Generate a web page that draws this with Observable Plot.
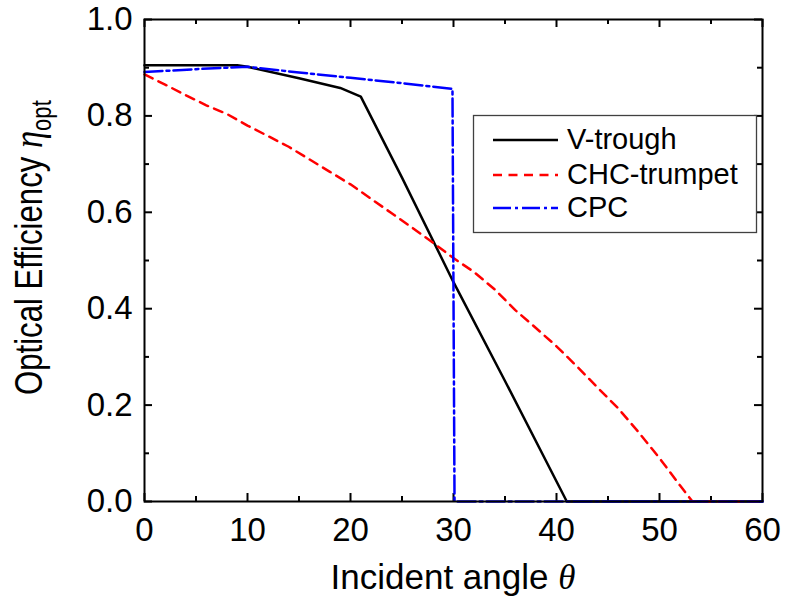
<!DOCTYPE html>
<html>
<head>
<meta charset="utf-8">
<script src="https://cdn.jsdelivr.net/npm/d3@7"></script>
<script src="https://cdn.jsdelivr.net/npm/@observablehq/plot@0.6"></script>
<style>
  html, body { margin: 0; padding: 0; background: white; }
  svg { display: block; }
</style>
</head>
<body>
<div id="chart"></div>
<script>
// ---- data ----
const seriesNames = ["V-trough", "CHC-trumpet", "CPC"];

const vtroughTheta = [0, 5, 9, 10, 15, 19, 21, 25, 30, 35, 41, 50, 60];
const vtroughEta   = [0.905, 0.905, 0.905, 0.902, 0.878, 0.858, 0.840, 0.672, 0.455, 0.250, 0, 0, 0];

const chcTheta = [0, 2, 4, 6, 8, 10, 12, 14, 16, 18, 20, 22, 24, 26, 28, 30, 32, 34, 36, 38, 40, 42, 44, 46, 48, 50, 52, 53.2, 56, 60];
const chcEta   = [0.886, 0.865, 0.843, 0.822, 0.804, 0.780, 0.758, 0.736, 0.710, 0.684, 0.658, 0.628, 0.598, 0.568, 0.537, 0.505, 0.476, 0.440, 0.397, 0.360, 0.322, 0.280, 0.236, 0.193, 0.143, 0.090, 0.033, 0, 0, 0];

const cpcTheta = [0, 5, 10, 15, 20, 25, 29.9, 30.1, 45, 60];
const cpcEta   = [0.891, 0.897, 0.902, 0.890, 0.879, 0.868, 0.856, 0, 0, 0];

const xTickLabels = [0, 10, 20, 30, 40, 50, 60];
const xMinorTicks = [5, 15, 25, 35, 45, 55];
const yTickLabels = [0, 0.2, 0.4, 0.6, 0.8, 1.0];
const yMinorTicks = [0.1, 0.3, 0.5, 0.7, 0.9];

const colors = ["#000000", "#ff0000", "#0000ff"];
const dashes = [null, "9,6.5", "18,4,3,4"];

// ---- build ----
const W = 785, H = 603;
const mL = 144, mR = 23, mT = 19, mB = 102;
const innerH = H - mT - mB;
const innerW = W - mL - mR;
const toRows = (t, v) => t.map((d, i) => ({theta: d, eta: v[i]}));
const series = [toRows(vtroughTheta, vtroughEta), toRows(chcTheta, chcEta), toRows(cpcTheta, cpcEta)];

const majorLen = 8, minorLen = 5;

const chart = Plot.plot({
  width: W, height: H,
  marginLeft: mL, marginRight: mR, marginTop: mT, marginBottom: mB,
  style: {fontFamily: "'Liberation Sans', Arial, sans-serif", background: "white", color: "black"},
  x: {domain: [0, 60]},
  y: {domain: [0, 1]},
  marks: [
    Plot.axisX(xTickLabels, {tickSize: 0, tickPadding: 16, fontSize: 33, label: null, tickFormat: d => String(d)}),
    Plot.axisY(yTickLabels, {tickSize: 0, tickPadding: 12, fontSize: 33, label: null, tickFormat: d3.format(".1f")}),
    // inward ticks, bottom & top
    Plot.tickX(xTickLabels, {x: d => d, insetTop: innerH - majorLen, stroke: "black", strokeWidth: 2}),
    Plot.tickX(xMinorTicks, {x: d => d, insetTop: innerH - minorLen, stroke: "black", strokeWidth: 2}),
    Plot.tickX(xTickLabels, {x: d => d, insetBottom: innerH - majorLen, stroke: "black", strokeWidth: 2}),
    Plot.tickX(xMinorTicks, {x: d => d, insetBottom: innerH - minorLen, stroke: "black", strokeWidth: 2}),
    // inward ticks, left & right
    Plot.tickY(yTickLabels, {y: d => d, insetRight: innerW - majorLen, stroke: "black", strokeWidth: 2}),
    Plot.tickY(yMinorTicks, {y: d => d, insetRight: innerW - minorLen, stroke: "black", strokeWidth: 2}),
    Plot.tickY(yTickLabels, {y: d => d, insetLeft: innerW - majorLen, stroke: "black", strokeWidth: 2}),
    Plot.tickY(yMinorTicks, {y: d => d, insetLeft: innerW - minorLen, stroke: "black", strokeWidth: 2}),
    // data lines
    Plot.line(series[0], {x: "theta", y: "eta", stroke: colors[0], strokeWidth: 2.5}),
    Plot.line(series[1], {x: "theta", y: "eta", stroke: colors[1], strokeWidth: 2.5, strokeDasharray: dashes[1]}),
    Plot.line(series[2], {x: "theta", y: "eta", stroke: colors[2], strokeWidth: 2.5, strokeDasharray: dashes[2]}),
    Plot.frame({stroke: "black", strokeWidth: 2})
  ]
});

document.getElementById("chart").appendChild(chart);

// ---- titles and legend ----
const svg = d3.select(chart);
const sans = "'Liberation Sans', Arial, sans-serif";
const serif = "'Liberation Serif', 'Times New Roman', serif";

// x title
const xt = svg.append("text")
  .attr("x", mL + innerW / 2).attr("y", 589)
  .attr("text-anchor", "middle")
  .attr("font-family", sans).attr("font-size", 35).attr("fill", "black");
xt.append("tspan").text("Incident angle ");
xt.append("tspan").attr("font-family", serif).attr("font-style", "italic").text("θ");

// y title
const yt = svg.append("text")
  .attr("transform", "translate(42,395) rotate(-90) scale(0.82,1)")
  .attr("text-anchor", "start")
  .attr("font-family", sans).attr("font-size", 38).attr("fill", "black");
yt.append("tspan").text("Optical Efficiency ");
yt.append("tspan").attr("font-family", serif).attr("font-style", "italic").attr("font-size", 42).text("η");
yt.append("tspan").attr("font-size", 27).attr("dy", 9).text("opt");

// legend
const lg = svg.append("g").attr("text-anchor", "start");
lg.append("rect")
  .attr("x", 473.5).attr("y", 115.5).attr("width", 283).attr("height", 117)
  .attr("fill", "white").attr("stroke", "#404040").attr("stroke-width", 1.3);
const rowY = [140, 175, 208];
seriesNames.forEach((name, i) => {
  lg.append("line")
    .attr("x1", 493).attr("x2", 558).attr("y1", rowY[i]).attr("y2", rowY[i])
    .attr("stroke", colors[i]).attr("stroke-width", 2.5)
    .attr("stroke-dasharray", dashes[i]);
  lg.append("text")
    .attr("x", 567).attr("y", rowY[i] + 9)
    .attr("text-anchor", "start")
    .attr("font-family", sans).attr("font-size", 29).attr("fill", "black")
    .text(name);
});
</script>
</body>
</html>
